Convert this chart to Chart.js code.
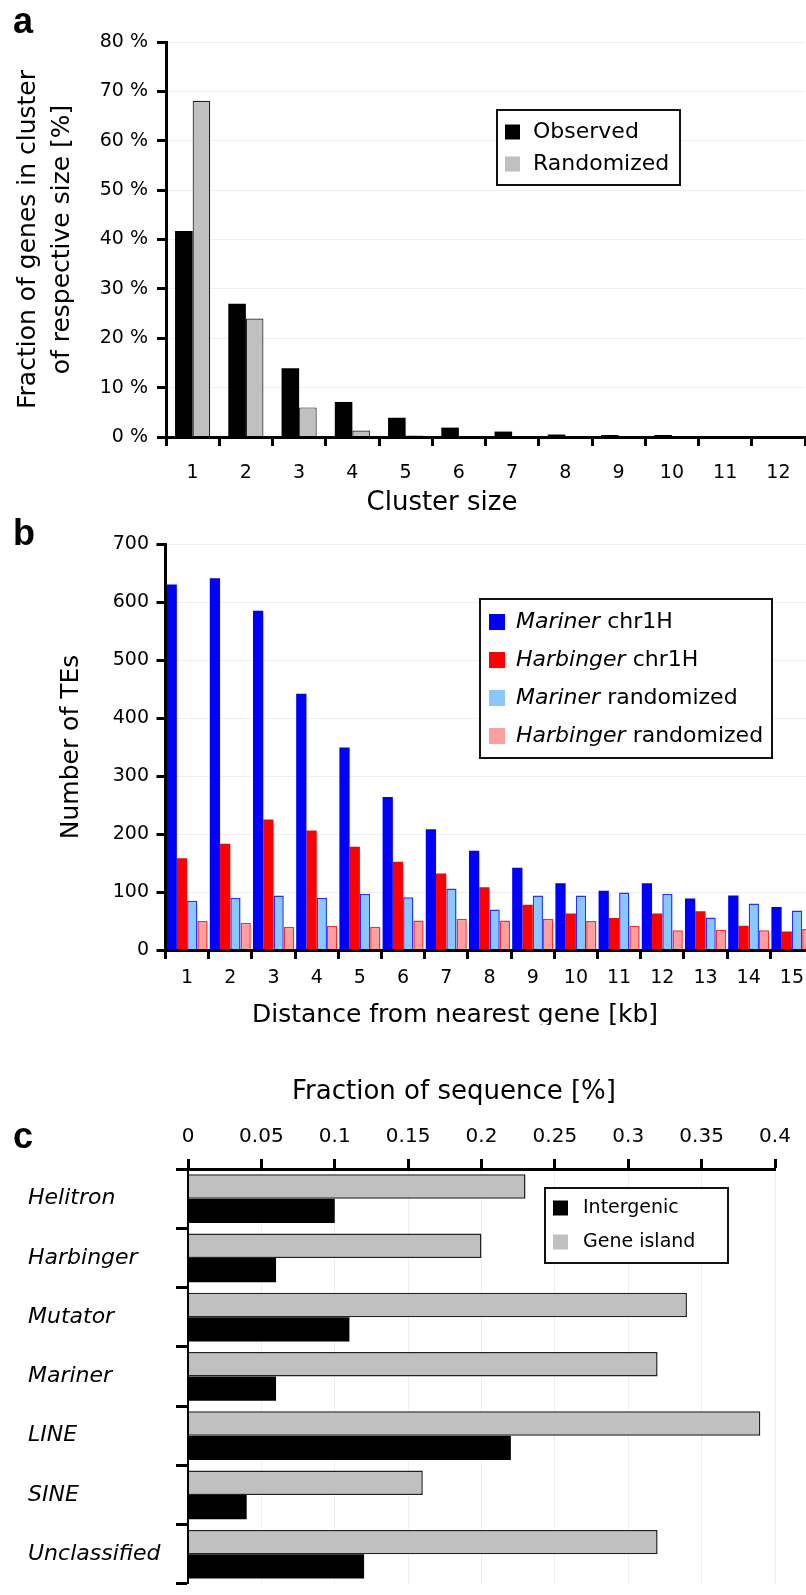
<!DOCTYPE html>
<html>
<head>
<meta charset="utf-8">
<script src="https://cdn.jsdelivr.net/npm/chart.js@4.4.1/dist/chart.umd.min.js"></script>
<style>
html, body { margin: 0; padding: 0; background: #fff; }
#page { position: relative; width: 806px; height: 1595px; overflow: hidden; background: #fff; }
canvas { position: absolute; left: 0; }
</style>
</head>
<body>
<div id="page">
<canvas id="clusterChart" width="820" height="520" style="top:0px"></canvas>
<canvas id="distanceChart" width="830" height="515" style="top:510px"></canvas>
<canvas id="fractionChart" width="806" height="575" style="top:1025px"></canvas>
</div>
<script>
// panel a
const clusterSizes = ['1','2','3','4','5','6','7','8','9','10','11','12'];
const observed = [41.7, 27.0, 13.9, 7.1, 3.9, 1.9, 1.1, 0.5, 0.4, 0.4, 0.1, 0.1];
const randomized = [68.1, 24.0, 6.0, 1.3, 0.3, 0.1, 0.05, 0.02, 0.01, 0.01, 0, 0];
const pctTicks = ['0 %','10 %','20 %','30 %','40 %','50 %','60 %','70 %','80 %'];

// panel b
const distances = ['1','2','3','4','5','6','7','8','9','10','11','12','13','14','15'];
const marinerObs = [630, 641, 585, 442, 349, 264, 208, 171, 142, 115, 102, 115, 89, 94, 74];
const harbingerObs = [158, 183, 225, 206, 178, 152, 132, 108, 78, 63, 55, 63, 67, 42, 32];
const marinerRand = [85, 90, 94, 90, 97, 91, 106, 70, 94, 94, 99, 97, 56, 80, 68];
const harbingerRand = [50, 47, 40, 42, 40, 51, 54, 51, 54, 50, 42, 34, 35, 34, 36];

// panel c
const teClasses = ['Helitron','Harbinger','Mutator','Mariner','LINE','SINE','Unclassified'];
const geneIsland = [0.23, 0.20, 0.34, 0.32, 0.39, 0.16, 0.32];
const intergenic = [0.10, 0.06, 0.11, 0.06, 0.22, 0.04, 0.12];
const fracTicks = ['0','0.05','0.1','0.15','0.2','0.25','0.3','0.35','0.4'];

Chart.defaults.font.family = '"DejaVu Sans", sans-serif';
Chart.defaults.color = '#000';

// legend drawn as a framed box inside the plot
const boxLegend = {
  id: 'boxLegend',
  afterDraw(chart, args, o) {
    const c = chart.ctx;
    c.save();
    c.fillStyle = '#fff';
    c.fillRect(o.x, o.y, o.w, o.h);
    c.lineWidth = 2;
    c.strokeStyle = '#111';
    c.strokeRect(o.x, o.y, o.w, o.h);
    c.textBaseline = 'middle';
    o.order.forEach((i, k) => {
      const ds = chart.data.datasets[i];
      const cy = o.y + o.rows[k];
      c.fillStyle = ds.backgroundColor;
      c.fillRect(o.x + o.boxX, cy - o.box / 2, o.box, o.box);
      c.fillStyle = '#000';
      let tx = o.x + o.textX;
      let rest = ds.label;
      if (o.italicFirst) {
        const sp = rest.indexOf(' ');
        const word = rest.slice(0, sp);
        rest = rest.slice(sp);
        c.font = 'italic ' + o.size + 'px "DejaVu Sans"';
        c.fillText(word, tx, cy);
        tx += c.measureText(word).width;
      }
      c.font = o.size + 'px "DejaVu Sans"';
      c.fillText(rest, tx, cy);
    });
    c.restore();
  }
};

// panel letters and x titles
const textMarks = {
  id: 'textMarks',
  afterDraw(chart, args, o) {
    const c = chart.ctx;
    c.save();
    c.fillStyle = '#000';
    o.items.forEach(t => {
      c.font = t.font;
      c.textAlign = t.align || 'center';
      c.textBaseline = t.baseline || 'middle';
      c.fillText(t.text, t.x, t.y);
    });
    c.restore();
  }
};

const tickGrid = {tickLength: 9, tickWidth: 3, tickColor: '#000'};
const axisLine = {color: '#000', width: 3, z: 1};

new Chart(document.getElementById('clusterChart'), {
  type: 'bar',
  data: {
    labels: clusterSizes,
    datasets: [
      {label: 'Observed', data: observed, backgroundColor: '#000', borderWidth: 0},
      {label: 'Randomized', data: randomized, backgroundColor: '#c0c0c0', borderColor: '#222', borderWidth: 1.2}
    ]
  },
  options: {
    responsive: false,
    animation: false,
    devicePixelRatio: 1,
    layout: {padding: {left: 0, top: 42, right: 15, bottom: 0}},
    datasets: {bar: {categoryPercentage: 0.66, barPercentage: 1}},
    plugins: {
      legend: {display: false},
      tooltip: {enabled: false},
      boxLegend: {x: 497, y: 110, w: 183, h: 75, rows: [22, 54], boxX: 8, box: 15, textX: 36, size: 22, order: [0, 1]},
      textMarks: {items: [
        {text: 'a', x: 13, y: 33, font: 'bold 36px "Liberation Sans"', align: 'left', baseline: 'alphabetic'},
        {text: 'Cluster size', x: 442, y: 503, font: '26px "DejaVu Sans"'}
      ]}
    },
    scales: {
      x: {
        grid: {drawOnChartArea: false, ...tickGrid},
        border: axisLine,
        ticks: {padding: 16, font: {size: 19}},
        afterFit(s) { s.height = 83; }
      },
      y: {
        min: 0,
        max: 80,
        ticks: {stepSize: 10, padding: 9, font: {size: 19}, callback: (v, i) => pctTicks[i]},
        grid: {color: '#f0f0f0', ...tickGrid},
        border: axisLine,
        title: {display: true, text: ['Fraction of genes in cluster', 'of respective size [%]'], font: {size: 25, lineHeight: 1.35}, padding: {top: 12}},
        afterFit(s) { s.width = 166; }
      }
    }
  },
  plugins: [boxLegend, textMarks]
});

new Chart(document.getElementById('distanceChart'), {
  type: 'bar',
  data: {
    labels: distances,
    datasets: [
      {label: 'Mariner chr1H', data: marinerObs, backgroundColor: '#0000ff', borderWidth: 0},
      {label: 'Harbinger chr1H', data: harbingerObs, backgroundColor: '#ff0000', borderWidth: 0},
      {label: 'Mariner randomized', data: marinerRand, backgroundColor: '#88c8ff', borderColor: '#2233ff', borderWidth: 1.5},
      {label: 'Harbinger randomized', data: harbingerRand, backgroundColor: '#ff9e9e', borderColor: '#ff2a2a', borderWidth: 1.5}
    ]
  },
  options: {
    responsive: false,
    animation: false,
    devicePixelRatio: 1,
    layout: {padding: {left: 0, top: 34, right: 16.5, bottom: 0}},
    datasets: {bar: {categoryPercentage: 0.95, barPercentage: 1}},
    plugins: {
      legend: {display: false},
      tooltip: {enabled: false},
      boxLegend: {x: 480, y: 89, w: 292, h: 159, rows: [23, 61, 99, 137], boxX: 9, box: 16, textX: 36, size: 22, order: [0, 1, 2, 3], italicFirst: true},
      textMarks: {items: [
        {text: 'b', x: 13, y: 35, font: 'bold 36px "Liberation Sans"', align: 'left', baseline: 'alphabetic'},
        {text: 'Distance from nearest gene [kb]', x: 455, y: 505, font: '25px "DejaVu Sans"'}
      ]}
    },
    scales: {
      x: {
        grid: {drawOnChartArea: false, ...tickGrid},
        border: axisLine,
        ticks: {padding: 7.6, font: {size: 19}},
        afterFit(s) { s.height = 75; }
      },
      y: {
        min: 0,
        max: 700,
        ticks: {stepSize: 100, padding: 7.5, font: {size: 19}},
        grid: {color: '#f0f0f0', ...tickGrid},
        border: axisLine,
        title: {display: true, text: 'Number of TEs', font: {size: 25}, padding: {top: 56}},
        afterFit(s) { s.width = 165.5; }
      }
    }
  },
  plugins: [boxLegend, textMarks]
});

new Chart(document.getElementById('fractionChart'), {
  type: 'bar',
  data: {
    labels: teClasses,
    datasets: [
      {label: 'Gene island', data: geneIsland, backgroundColor: '#c0c0c0', borderColor: '#222', borderWidth: 1.5},
      {label: 'Intergenic', data: intergenic, backgroundColor: '#000', borderWidth: 0}
    ]
  },
  options: {
    indexAxis: 'y',
    responsive: false,
    animation: false,
    devicePixelRatio: 1,
    layout: {padding: {left: 28, top: 0, right: 31, bottom: 3}},
    datasets: {bar: {categoryPercentage: 0.82, barPercentage: 1}},
    plugins: {
      legend: {display: false},
      tooltip: {enabled: false},
      boxLegend: {x: 545, y: 163, w: 183, h: 75, rows: [20, 54], boxX: 8, box: 15, textX: 38, size: 19, order: [1, 0]},
      textMarks: {items: [
        {text: 'c', x: 13, y: 123, font: 'bold 36px "Liberation Sans"', align: 'left', baseline: 'alphabetic'},
        {text: 'Fraction of sequence [%]', x: 454, y: 67, font: '26px "DejaVu Sans"'}
      ]}
    },
    scales: {
      x: {
        position: 'top',
        min: 0,
        max: 0.4,
        ticks: {stepSize: 0.05, padding: 10, font: {size: 20}, callback: (v, i) => fracTicks[i]},
        grid: {color: '#f0f0f0', tickLength: 10, tickWidth: 3, tickColor: '#000'},
        border: axisLine,
        afterFit(s) { s.height = 144; }
      },
      y: {
        ticks: {crossAlign: 'far', font: {size: 22, style: 'italic'}},
        grid: {drawOnChartArea: false, tickLength: 12, tickWidth: 3, tickColor: '#000'},
        border: {color: '#000', width: 2, z: 1},
        afterFit(s) { s.width = 160; }
      }
    }
  },
  plugins: [boxLegend, textMarks]
});
</script>
</body>
</html>
